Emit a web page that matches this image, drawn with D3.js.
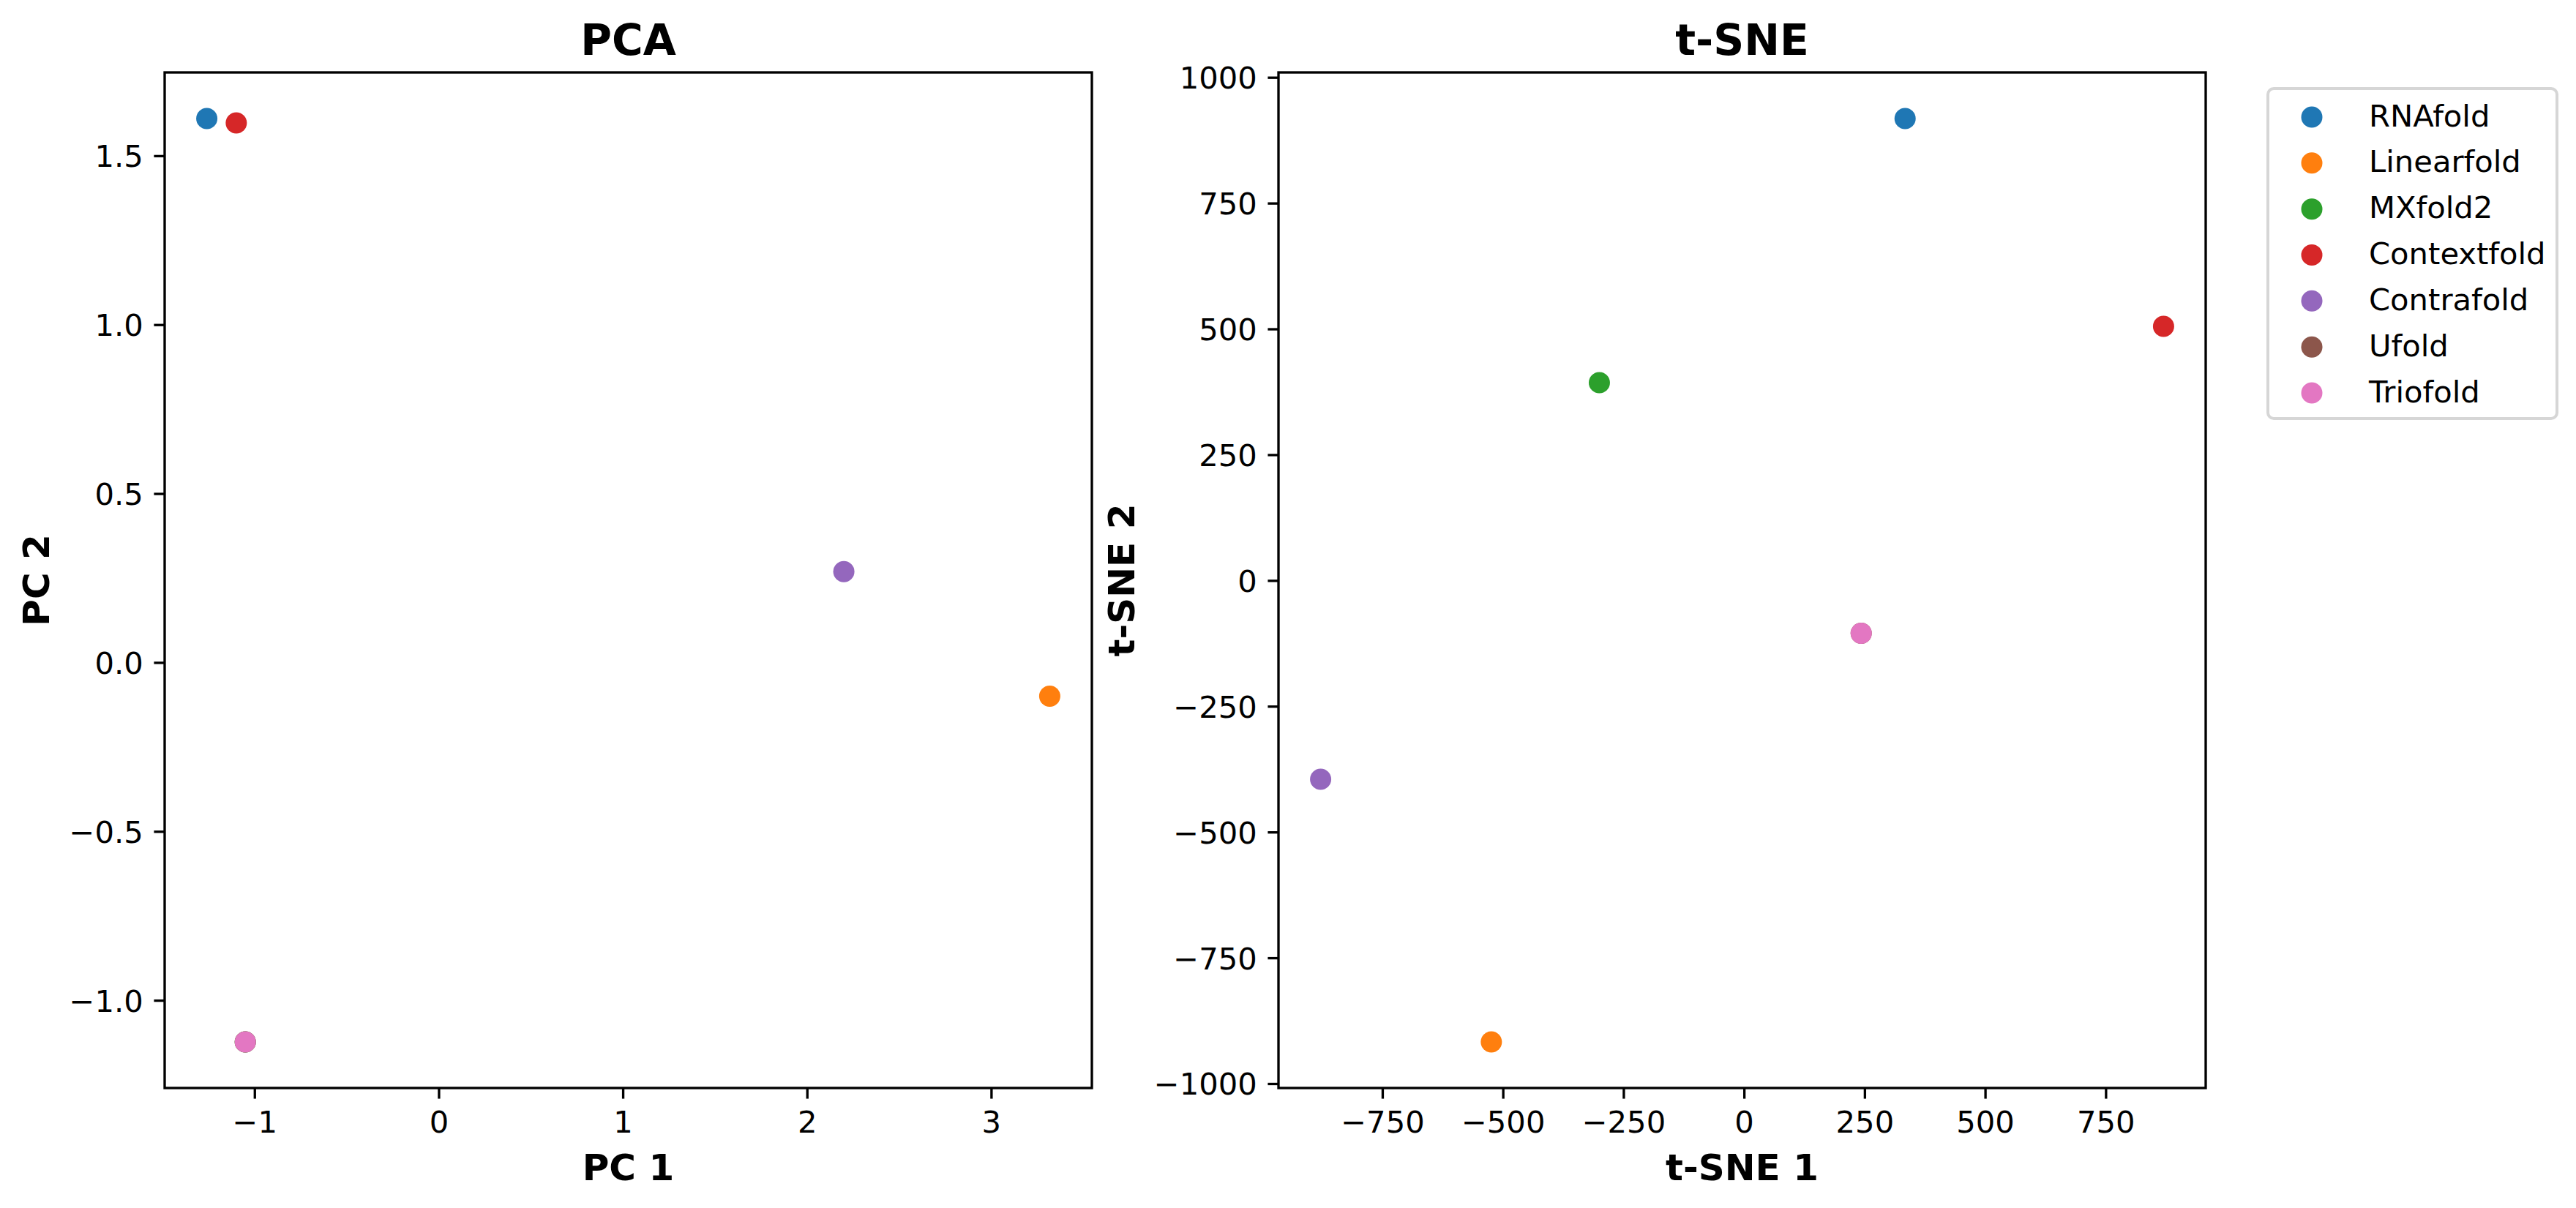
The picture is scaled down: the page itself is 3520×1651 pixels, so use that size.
<!DOCTYPE html>
<html>
<head>
<meta charset="utf-8">
<script src="https://cdn.jsdelivr.net/npm/d3@7"></script>
<style>
  html, body { margin: 0; padding: 0; background: #ffffff; }
  svg { display: block; }
  text { font-family: "DejaVu Sans", sans-serif; fill: #000; }
</style>
</head>
<body>
<svg id="chart" width="3520" height="1651"></svg>
<script>
// ---- data ----
const methods = ["RNAfold", "Linearfold", "MXfold2", "Contextfold", "Contrafold", "Ufold", "Triofold"];
const colors  = ["#1f77b4", "#ff7f0e", "#2ca02c", "#d62728", "#9467bd", "#8c564b", "#e377c2"];

const pcaX = [-1.259, 3.318, -1.05, -1.099, 2.20, -1.05, -1.05];
const pcaY = [1.61, -0.10, -1.123, 1.597, 0.269, -1.123, -1.123];

const tsneX = [334, -524, -300, 870, -878, 243, 243];
const tsneY = [918, -917, 393, 505, -395, -105, -105];

const pcaXTicks = [-1, 0, 1, 2, 3];
const pcaYTicks = [-1.0, -0.5, 0.0, 0.5, 1.0, 1.5];
const tsneXTicks = [-750, -500, -250, 0, 250, 500, 750];
const tsneYTicks = [-1000, -750, -500, -250, 0, 250, 500, 750, 1000];

// ---- layout ----
const svg = d3.select("#chart");
const plotTop = 99, plotBottom = 1487;
const lw = 3.33, tickLen = 14.6, tickPad = 14.6;
const tickFont = 41.7, labelFont = 50, titleFont = 58.3;
const dotR = 14.5;

function padDomain(ext) {
  const r = ext[1] - ext[0];
  return [ext[0] - 0.05 * r, ext[1] + 0.05 * r];
}

function panel(opts) {
  const { left, right, xs, ys, xTicks, yTicks, xFmt, yFmt, title, xLabel, yLabel, yLabelX } = opts;
  const x = d3.scaleLinear().domain(padDomain(d3.extent(xs))).range([left, right]);
  const y = d3.scaleLinear().domain(padDomain(d3.extent(ys))).range([plotBottom, plotTop]);
  const g = svg.append("g");

  // points
  g.append("g").selectAll("circle")
    .data(methods.map((m, i) => ({ m, i })))
    .join("circle")
    .attr("cx", d => x(xs[d.i]))
    .attr("cy", d => y(ys[d.i]))
    .attr("r", dotR)
    .attr("fill", d => colors[d.i]);

  // axes
  const xa = g.append("g").attr("transform", `translate(0,${plotBottom})`)
    .call(d3.axisBottom(x).tickValues(xTicks).tickFormat(xFmt).tickSize(tickLen).tickPadding(tickPad));
  const ya = g.append("g").attr("transform", `translate(${left},0)`)
    .call(d3.axisLeft(y).tickValues(yTicks).tickFormat(yFmt).tickSize(tickLen).tickPadding(tickPad));
  [xa, ya].forEach(a => {
    a.select(".domain").remove();
    a.selectAll(".tick line").attr("stroke", "#000").attr("stroke-width", lw);
    a.selectAll(".tick text").attr("font-size", tickFont).attr("font-family", "DejaVu Sans").attr("fill", "#000");
  });
  ya.selectAll(".tick text").attr("dy", "0.36em");
  xa.selectAll(".tick text").attr("dy", "0.76em");

  // frame
  g.append("rect")
    .attr("x", left).attr("y", plotTop)
    .attr("width", right - left).attr("height", plotBottom - plotTop)
    .attr("fill", "none").attr("stroke", "#000").attr("stroke-width", lw);

  // title
  g.append("text").attr("x", (left + right) / 2).attr("y", 75)
    .attr("text-anchor", "middle").attr("font-size", titleFont).attr("font-weight", "bold")
    .text(title);
  // x label
  g.append("text").attr("x", (left + right) / 2).attr("y", 1613)
    .attr("text-anchor", "middle").attr("font-size", labelFont).attr("font-weight", "bold")
    .text(xLabel);
  // y label
  g.append("text")
    .attr("transform", `translate(${yLabelX},${(plotTop + plotBottom) / 2}) rotate(-90)`)
    .attr("text-anchor", "middle").attr("font-size", labelFont).attr("font-weight", "bold")
    .text(yLabel);
}

const fmtInt = d3.format("d");
const fmt1 = d3.format(".1f");

panel({
  left: 225, right: 1492, xs: pcaX, ys: pcaY,
  xTicks: pcaXTicks, yTicks: pcaYTicks, xFmt: fmtInt, yFmt: fmt1,
  title: "PCA", xLabel: "PC 1", yLabel: "PC 2", yLabelX: 67
});
panel({
  left: 1747, right: 3014, xs: tsneX, ys: tsneY,
  xTicks: tsneXTicks, yTicks: tsneYTicks, xFmt: fmtInt, yFmt: fmtInt,
  title: "t-SNE", xLabel: "t-SNE 1", yLabel: "t-SNE 2", yLabelX: 1550
});

// ---- legend ----
const lg = svg.append("g");
lg.append("rect")
  .attr("x", 3099).attr("y", 121).attr("width", 395).attr("height", 451)
  .attr("rx", 8).attr("ry", 8)
  .attr("fill", "#fff").attr("stroke", "#d6d6d6").attr("stroke-width", 4);
const rowY = d3.scalePoint().domain(methods).range([160, 537]);
const items = lg.selectAll("g.item").data(methods.map((m, i) => ({ m, i }))).join("g").attr("class", "item");
items.append("circle")
  .attr("cx", 3159).attr("cy", d => rowY(d.m)).attr("r", dotR)
  .attr("fill", d => colors[d.i]);
items.append("text")
  .attr("x", 3237).attr("y", d => rowY(d.m) + 12.5)
  .attr("font-size", tickFont)
  .text(d => d.m);
</script>
</body>
</html>
